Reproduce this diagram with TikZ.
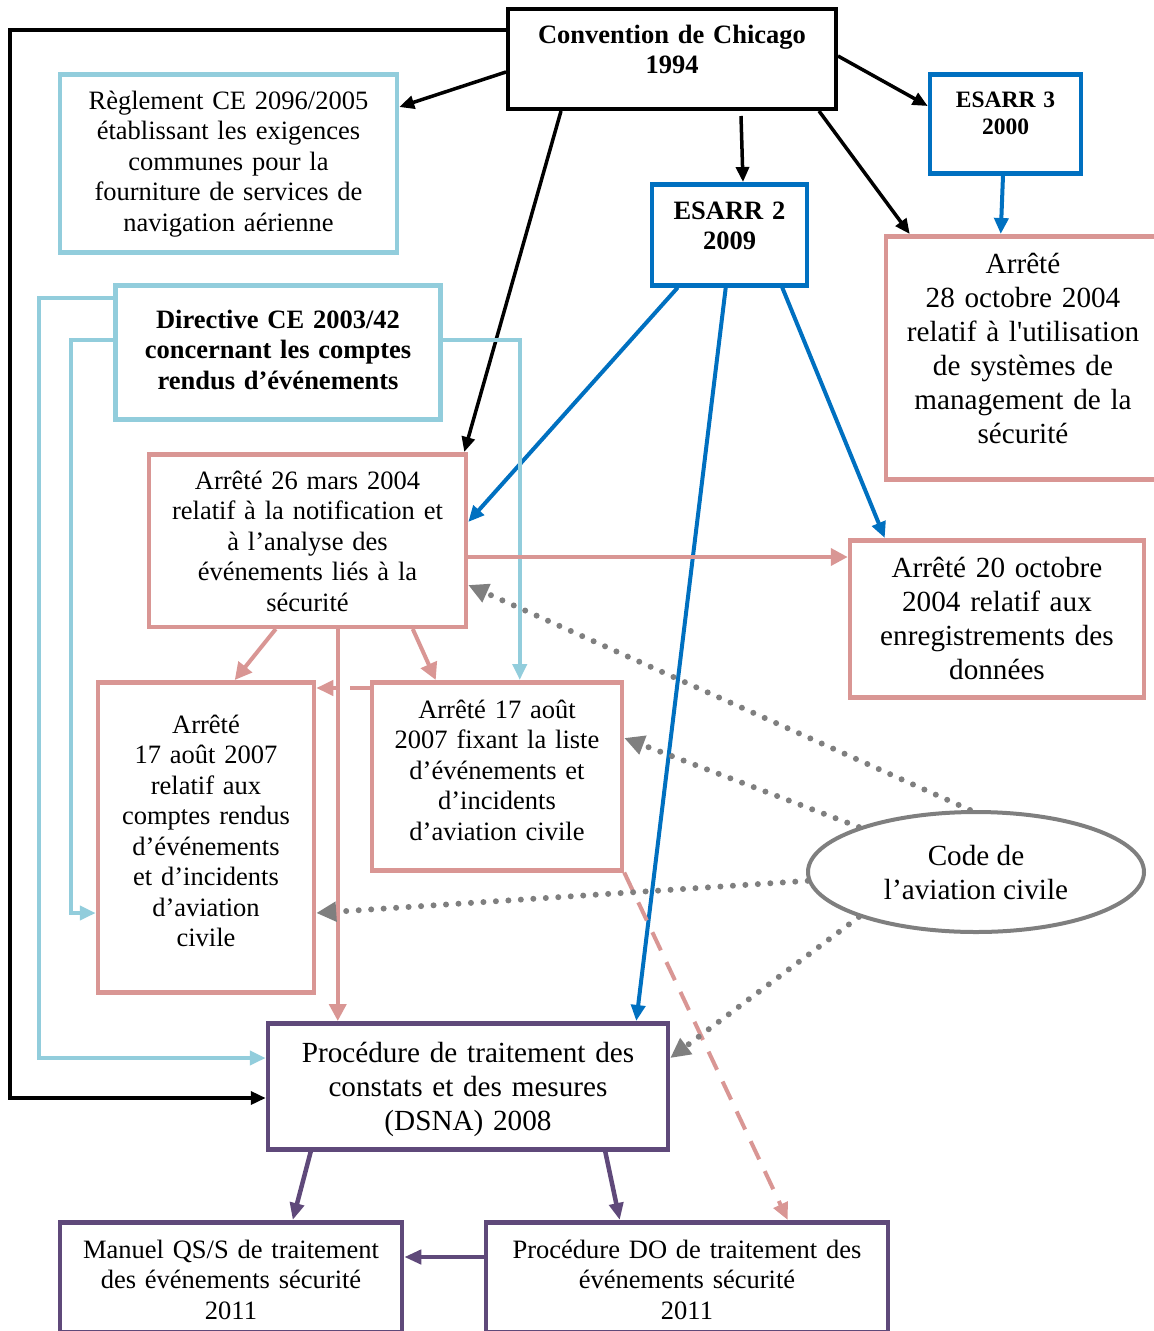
\documentclass[tikz,border=0pt]{standalone}
\usepackage{fontspec}
\setmainfont{Liberation Serif}
\usetikzlibrary{arrows.meta, calc, shapes.geometric}

\definecolor{reglblue}{HTML}{92CDDC}
\definecolor{esarrblue}{HTML}{0070C0}
\definecolor{arretepink}{HTML}{D99694}
\definecolor{procpurple}{HTML}{5F497A}
\definecolor{codegray}{HTML}{7F7F7F}

\newcommand{\fsnormal}{\fontsize{26.5}{30.5}\selectfont}
\newcommand{\fslarge}{\fontsize{29.2}{34}\selectfont}
\newcommand{\fssmall}{\fontsize{23.5}{27}\selectfont}

\tikzset{
  % Text boxes (top edge at the node coordinate)
  doc/.style={
    draw=#1, line width=4.5pt, align=center,
    inner sep=0pt, anchor=north,
    font=\fsnormal, text=black,
  },
  codebox/.style={
    draw=codegray, ellipse, line width=4pt,
    minimum width=336pt, minimum height=120pt,
    inner sep=0pt, align=center, font=\fslarge,
  },
  % Arrows
  arrblack/.style={-{Triangle[length=15pt, width=13pt]}, line width=3.5pt, black},
  arrblue/.style={-{Triangle[length=16pt, width=14pt]}, line width=4pt, esarrblue},
  arrlblue/.style={-{Triangle[length=16pt, width=14pt]}, line width=4pt, reglblue},
  arrpink/.style={-{Triangle[length=17pt, width=17pt]}, line width=4pt, arretepink},
  dasharr/.style={-{Triangle[length=17pt, width=15pt]}, line width=4pt, arretepink,
                  dash pattern=on 20pt off 13pt},
  dotarr/.style={-{Triangle[length=20pt, width=19pt]}, line width=6pt, codegray,
                 line cap=round, dash pattern=on 0pt off 12.5pt},
  arrpurple/.style={-{Triangle[length=17pt, width=14pt]}, line width=4.5pt, procpurple},
}

\begin{document}
\begin{tikzpicture}[x=1pt, y=-1pt]
  \useasboundingbox (0,0) rectangle (1154,1331);

  % Sources
  \node[doc=black, line width=4pt, text width=328pt, text height=34pt, text depth=66pt,
        font=\fsnormal\bfseries] (chicago) at (672,7)
    {Convention de Chicago\\1994};
  \node[doc=reglblue, text width=337pt, text height=35pt, text depth=143pt] (reglement) at (228.5,72)
    {Règlement CE 2096/2005\\établissant les exigences\\communes pour la\\fourniture de services de\\navigation aérienne};
  \node[doc=esarrblue, text width=151pt, text height=33pt, text depth=66pt,
        font=\fssmall\bfseries] (esarr3) at (1005.5,72)
    {ESARR 3\\2000};
  \node[doc=esarrblue, text width=155pt, text height=35pt, text depth=66pt,
        font=\fsnormal\bfseries] (esarr2) at (729.5,182)
    {ESARR 2\\2009};
  \node[doc=reglblue, text width=325pt, text height=43pt, text depth=91pt,
        font=\fsnormal\bfseries] (directive) at (278,283)
    {Directive CE 2003/42\\concernant les comptes\\rendus d’événements};

  % Arrêtés
  \node[doc=arretepink, text width=274pt, text height=37pt, text depth=206pt,
        font=\fslarge] (arr28) at (1023,234)
    {Arrêté\\28 octobre 2004\\relatif à l{\textquotesingle}utilisation\\de systèmes de\\management de la\\sécurité};
  \node[doc=arretepink, text width=317pt, text height=35pt, text depth=137.5pt] (arr26) at (307.5,452)
    {Arrêté 26 mars 2004\\relatif à la notification et\\à l’analyse des\\événements liés à la\\sécurité};
  \node[doc=arretepink, text width=294pt, text height=37pt, text depth=120pt,
        font=\fslarge] (arr20) at (997,538)
    {Arrêté 20 octobre\\2004 relatif aux\\enregistrements des\\données};
  \node[doc=arretepink, text width=216pt, text height=51pt, text depth=259pt] (arr17) at (206,680)
    {Arrêté\\17 août 2007\\relatif aux\\comptes rendus\\d’événements\\et d’incidents\\d’aviation\\civile};
  \node[doc=arretepink, text width=250pt, text height=36pt, text depth=152pt] (fixant) at (497,680)
    {Arrêté 17 août\\2007 fixant la liste\\d’événements et\\d’incidents\\d’aviation civile};
  \node[codebox] (code) at (976,872) {Code de\\l’aviation civile};

  % Procédures
  \node[doc=procpurple, text width=400pt, text height=39pt, text depth=87pt,
        font=\fslarge] (dsna) at (468,1021)
    {Procédure de traitement des\\constats et des mesures\\(DSNA) 2008};
  \node[doc=procpurple, text width=342pt, text height=36pt, text depth=74pt] (manuel) at (231,1220)
    {Manuel QS/S de traitement\\des événements sécurité\\2011};
  \node[doc=procpurple, text width=402pt, text height=36pt, text depth=74pt] (procdo) at (687,1220)
    {Procédure DO de traitement des\\événements sécurité\\2011};

  % Convention de Chicago
  \draw[arrblack] ([yshift=-23]chicago.north west) -- ++(-496,0) |- ([yshift=-77]dsna.north west);
  \draw[arrblack] ([yshift=-65]chicago.north west) -- ([yshift=-35]reglement.north east);
  \draw[arrblack] ([xshift=55]chicago.south west) -- ([xshift=-4]arr26.north east);
  \draw[arrblack] ([xshift=235,yshift=-5]chicago.south west) -- ([xshift=13.5]esarr2.north);
  \draw[arrblack] ([xshift=-19]chicago.south east) -- ([xshift=26]arr28.north west);
  \draw[arrblack] ([yshift=-49]chicago.north east) -- ([yshift=-34]esarr3.north west);

  % ESARR
  \draw[arrblue] ([xshift=-2.5]esarr3.south) -- ([xshift=117]arr28.north west);
  \draw[arrblue] ([xshift=28]esarr2.south west) -- ([yshift=-70]arr26.north east);
  \draw[arrblue] ([xshift=76]esarr2.south west) -- ([xshift=-34]dsna.north east);
  \draw[arrblue] ([xshift=-27]esarr2.south east) -- ([xshift=37]arr20.north west);

  % Directive
  \draw[arrlblue] ([yshift=-15]directive.north west) -- ++(-74,0) |- ([yshift=-37]dsna.north west);
  \draw[arrlblue] ([yshift=-57]directive.north west) -- ++(-42,0) |- ([yshift=-233]arr17.north west);
  \draw[arrlblue] ([yshift=-57]directive.north east) -| ([xshift=150]fixant.north west);

  % Arrêtés
  \draw[arrpink] ([yshift=-105]arr26.north east) -- ([yshift=-19]arr20.north west);
  \draw[arrpink] ([xshift=129]arr26.south west) -- ([xshift=139]arr17.north west);
  \draw[arrpink] ([xshift=266]arr26.south west) -- ([xshift=66]fixant.north west);
  \draw[arrpink] ([xshift=191]arr26.south west) -- ([xshift=72]dsna.north west);
  \draw[dasharr] ([yshift=-8]fixant.north west) -- ([yshift=-8]arr17.north east);
  \draw[dasharr] (fixant.south east) -- ([xshift=304]procdo.north west);

  % Code de l'aviation civile
  \draw[dotarr] ([xshift=-6]code.north) -- ([yshift=-133]arr26.north east);
  \draw[dotarr] (code.159) -- ([yshift=-58]fixant.north east);
  \draw[dotarr] (code.183) -- ([yshift=-233]arr17.north east);
  \draw[dotarr] (code.201) -- ([yshift=-37]dsna.north east);

  % Procédures
  \draw[arrpurple] ([xshift=45]dsna.south west) -- ([xshift=235]manuel.north west);
  \draw[arrpurple] ([xshift=-65]dsna.south east) -- ([xshift=136]procdo.north west);
  \draw[arrpurple] ([yshift=-37]procdo.north west) -- ([yshift=-37]manuel.north east);
\end{tikzpicture}
\end{document}
